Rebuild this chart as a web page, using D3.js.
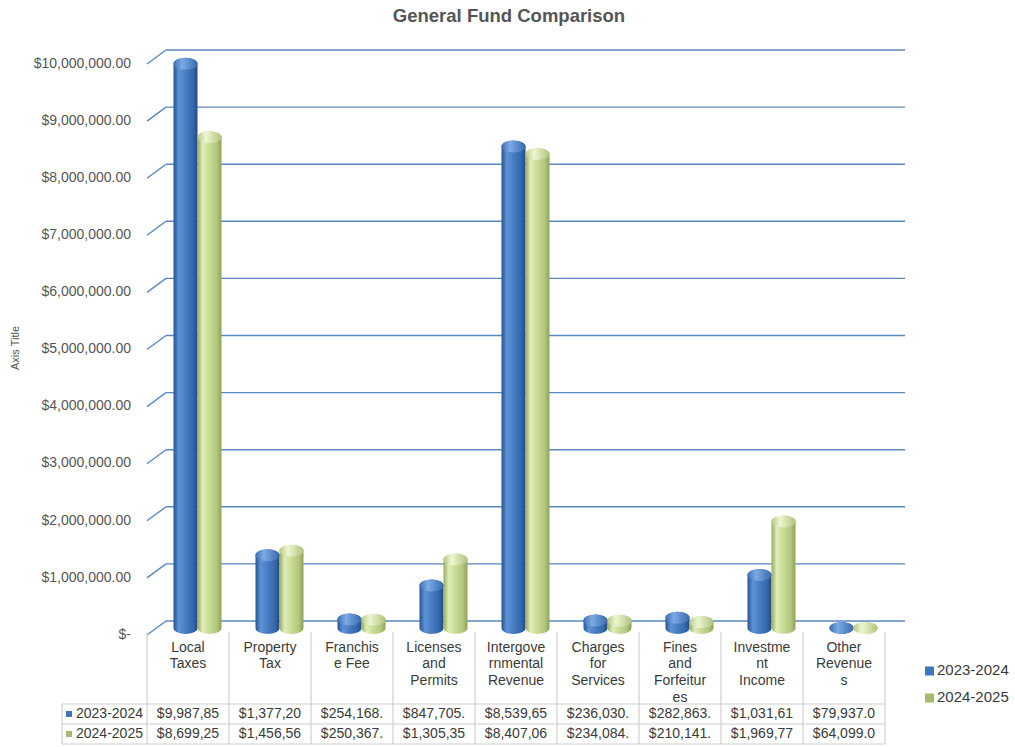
<!DOCTYPE html>
<html>
<head>
    <script src="https://d3js.org/d3.v7.min.js"></script>
    <style>
        body { margin: 0; background: #fff; }
        text { font-family: "Liberation Sans", Arial, sans-serif; }
    </style>
</head>
<body>
    <svg width="1015" height="747"></svg>
    <script>
        // chart data
        const categories = ["Local Taxes", "Property Tax", "Franchise Fee", "Licenses and Permits",
            "Intergovernmental Revenue", "Charges for Services", "Fines and Forfeitures",
            "Investment Income", "Other Revenues"]
        // how the names wrap in the data table cells
        const headerLines = [["Local", "Taxes"], ["Property", "Tax"], ["Franchis", "e Fee"],
            ["Licenses", "and", "Permits"], ["Intergove", "rnmental", "Revenue"],
            ["Charges", "for", "Services"], ["Fines", "and", "Forfeitur", "es"],
            ["Investme", "nt", "Income"], ["Other", "Revenue", "s"]]
        const seriesNames = ["2023-2024", "2024-2025"]
        const fy2324 = [9987850, 1377200, 254168, 847705, 8539650, 236030, 282863, 1031610, 79937]
        const fy2425 = [8699250, 1456560, 250367, 1305350, 8407060, 234084, 210141, 1969770, 64099]
        const yTicks = d3.range(0, 10000001, 1000000)

        const svg = d3.select("svg")
        const defs = svg.append("defs")

        // cylinder shading
        function addGrad(id, stops){
            const g = defs.append("linearGradient").attr("id", id)
                .attr("x1", "0%").attr("x2", "100%").attr("y1", "0%").attr("y2", "0%")
            stops.forEach(s => g.append("stop").attr("offset", s[0]).attr("stop-color", s[1]))
        }
        addGrad("gBlue", [["0%", "#245490"], ["22%", "#5e93d8"], ["45%", "#4c81c6"], ["80%", "#3568ac"], ["100%", "#214c88"]])
        addGrad("gGreen", [["0%", "#95ab5e"], ["22%", "#e1edbb"], ["45%", "#cbdd98"], ["80%", "#b3c77c"], ["100%", "#8ea358"]])
        addGrad("cBlue", [["0%", "#3c6eb2"], ["35%", "#7caae6"], ["100%", "#3a6aae"]])
        addGrad("cGreen", [["0%", "#b5c983"], ["35%", "#eef6d2"], ["100%", "#b0c47c"]])

        // back wall scale, front plane is offset by the depth
        const y = d3.scaleLinear().domain([0, 10000000]).range([621, 50])
        const depthX = 19, depthY = 14
        const backLeft = 166, backRight = 905
        const x = d3.scaleBand().domain(categories).range([147, 885])
        const textCol = "#3a3a3a"

        // title
        svg.append("text")
            .attr("x", 509).attr("y", 17)
            .attr("text-anchor", "middle").attr("dominant-baseline", "middle")
            .style("font-size", "18.5px").style("font-weight", "bold").style("fill", "#555")
            .text("General Fund Comparison")

        // gridlines
        const grid = svg.append("g")
        grid.selectAll("line.back")
            .data(yTicks)
            .enter()
            .append("line")
            .attr("x1", backLeft).attr("x2", backRight)
            .attr("y1", d => y(d)).attr("y2", d => y(d))
            .attr("stroke", "#5a88c2").style("stroke-width", "1.4px")
        grid.selectAll("line.side")
            .data(yTicks)
            .enter()
            .append("line")
            .attr("x1", backLeft - depthX).attr("x2", backLeft)
            .attr("y1", d => y(d) + depthY).attr("y2", d => y(d))
            .attr("stroke", "#5a88c2").style("stroke-width", "1.4px")

        // y labels
        const fmt = d3.format("$,.2f")
        svg.append("g").selectAll("text")
            .data(yTicks)
            .enter()
            .append("text")
            .attr("x", 131)
            .attr("y", d => y(d) + depthY)
            .attr("text-anchor", "end").attr("dominant-baseline", "middle")
            .style("font-size", "14px").style("fill", "#555")
            .text(d => d === 0 ? "$-" : fmt(d))

        svg.append("text")
            .attr("transform", "translate(19,348) rotate(-90)")
            .attr("text-anchor", "middle")
            .style("font-size", "11px").style("fill", "#555")
            .text("Axis Title")

        // bars as cylinders at mid depth
        const barW = 24, ry = 6
        const bars = []
        categories.forEach((c, i) => {
            const cx = x(c) + x.bandwidth() / 2 + depthX / 2
            bars.push({v: fy2324[i], x0: cx - barW, s: 0})
            bars.push({v: fy2425[i], x0: cx, s: 1})
        })
        function body(d){
            const base = y(0) + depthY / 2
            const top = Math.min(y(d.v) + depthY / 2 + ry, base)
            return "M" + d.x0 + "," + top + " L" + d.x0 + "," + base +
                " A" + barW / 2 + "," + ry + " 0 0 0 " + (d.x0 + barW) + "," + base +
                " L" + (d.x0 + barW) + "," + top +
                " A" + barW / 2 + "," + ry + " 0 0 0 " + d.x0 + "," + top + " Z"
        }
        const barG = svg.append("g")
        barG.selectAll("path")
            .data(bars)
            .enter()
            .append("path")
            .attr("d", body)
            .style("fill", d => d.s === 0 ? "url(#gBlue)" : "url(#gGreen)")
        barG.selectAll("ellipse")
            .data(bars)
            .enter()
            .append("ellipse")
            .attr("cx", d => d.x0 + barW / 2)
            .attr("cy", d => Math.min(y(d.v) + depthY / 2 + ry, y(0) + depthY / 2))
            .attr("rx", barW / 2).attr("ry", ry)
            .style("fill", d => d.s === 0 ? "url(#cBlue)" : "url(#cGreen)")

        // data table
        const tbl = svg.append("g")
        const lineCol = "#d0d0d0"
        const rowTop = 704, rowH = 20
        ;[0, 1, 2].forEach(k => {
            tbl.append("line")
                .attr("x1", 62).attr("x2", 885)
                .attr("y1", rowTop + k * rowH).attr("y2", rowTop + k * rowH)
                .attr("stroke", lineCol).style("stroke-width", "1.2px")
        })
        tbl.append("line")
            .attr("x1", 62).attr("x2", 62).attr("y1", rowTop).attr("y2", rowTop + 2 * rowH)
            .attr("stroke", lineCol).style("stroke-width", "1.2px")
        tbl.selectAll("line.v")
            .data(categories.concat(["end"]))
            .enter()
            .append("line")
            .attr("x1", (d, i) => 147 + i * x.bandwidth())
            .attr("x2", (d, i) => 147 + i * x.bandwidth())
            .attr("y1", 632).attr("y2", rowTop + 2 * rowH)
            .attr("stroke", lineCol).style("stroke-width", "1.2px")

        categories.forEach((c, i) => {
            tbl.append("g").selectAll("text")
                .data(headerLines[i])
                .enter()
                .append("text")
                .attr("x", x(c) + x.bandwidth() / 2)
                .attr("y", (d, j) => 648 + j * 16.7)
                .attr("text-anchor", "middle").attr("dominant-baseline", "middle")
                .style("font-size", "14px").style("fill", textCol)
                .text(d => d)
        })

        const cell = v => fmt(v).slice(0, 9)
        ;[fy2324, fy2425].forEach((arr, r) => {
            const cy = rowTop + r * rowH + rowH / 2
            tbl.append("rect")
                .attr("x", 66).attr("y", cy - 3).attr("width", 6).attr("height", 6)
                .style("fill", r === 0 ? "#3f74be" : "#a6b96e")
            tbl.append("text")
                .attr("x", 76).attr("y", cy)
                .attr("dominant-baseline", "middle")
                .style("font-size", "14px").style("fill", textCol)
                .text(seriesNames[r])
            tbl.append("g").selectAll("text")
                .data(arr)
                .enter()
                .append("text")
                .attr("x", (d, i) => x(categories[i]) + x.bandwidth() / 2)
                .attr("y", cy)
                .attr("text-anchor", "middle").attr("dominant-baseline", "middle")
                .style("font-size", "14px").style("fill", textCol)
                .text(d => cell(d))
        })

        // legend
        const leg = svg.append("g")
        seriesNames.forEach((s, i) => {
            const ly = 671 + i * 27
            leg.append("rect")
                .attr("x", 925).attr("y", ly - 4.5).attr("width", 9).attr("height", 9)
                .style("fill", i === 0 ? "#3f74be" : "#a6b96e")
            leg.append("text")
                .attr("x", 937).attr("y", ly)
                .attr("dominant-baseline", "middle")
                .style("font-size", "15px").style("fill", textCol)
                .text(s)
        })
    </script>
</body>
</html>
